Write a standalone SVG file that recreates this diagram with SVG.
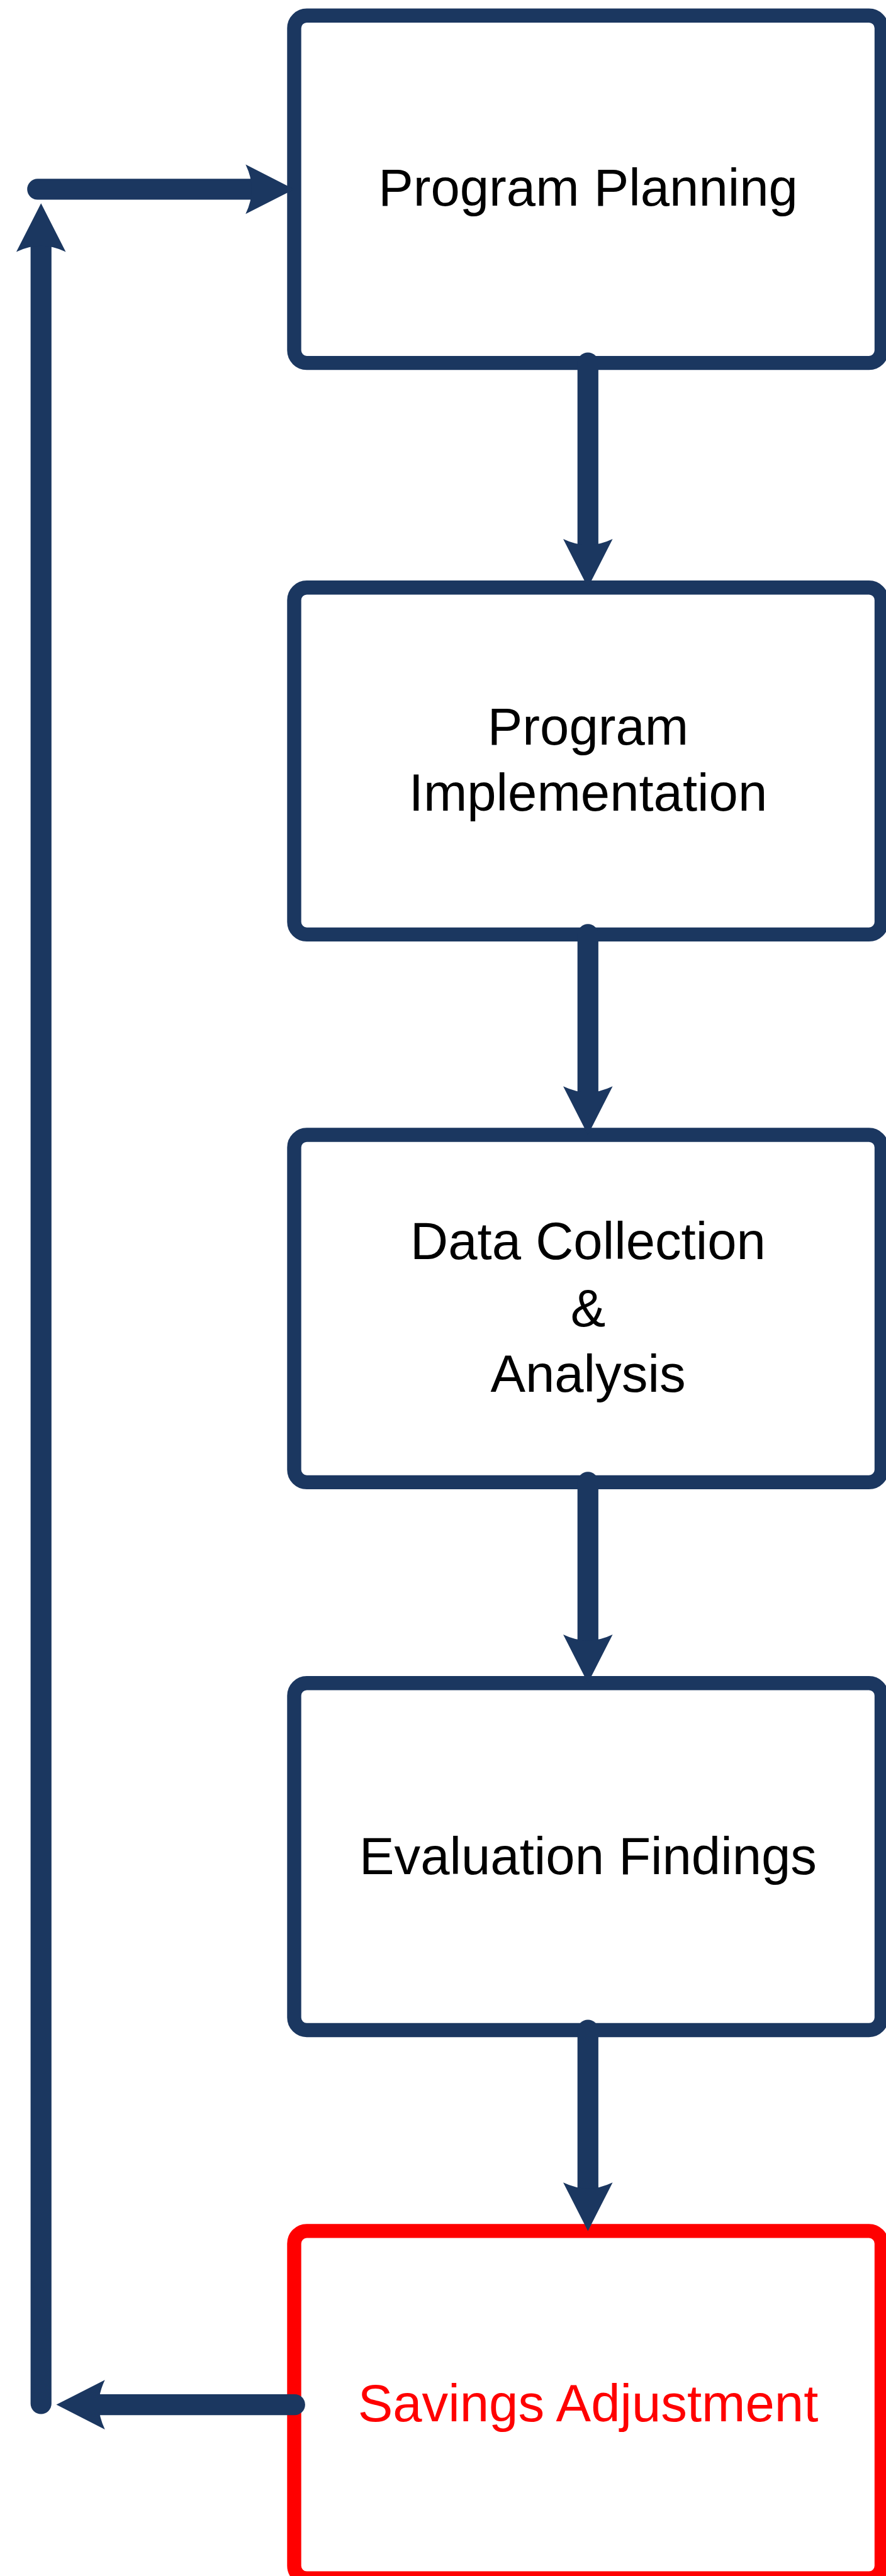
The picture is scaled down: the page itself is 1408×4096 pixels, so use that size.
<svg xmlns="http://www.w3.org/2000/svg" width="1408" height="4096" viewBox="0 0 1408 4096">
  <style>
    .box { fill: #FFFFFF; stroke: #1B3760; stroke-width: 22.4; }
    .box.red { stroke: #FF0000; }
    .lbl { font-family: "Liberation Sans", Arial, sans-serif; font-size: 83.3px; fill: #000000; text-anchor: middle; }
    .lbl.red { fill: #FF0000; }
    .conn { fill: none; stroke: #1B3760; stroke-width: 33.2; stroke-linecap: round; marker-end: url(#ah); }
  </style>
  <defs>
    <marker id="ah" markerUnits="userSpaceOnUse" orient="auto" refX="-60" refY="0" markerWidth="80" markerHeight="80" overflow="visible">
      <path d="M0,0 L-77.2,-39.3 Q-67.5,-19 -67.5,0 Q-67.5,19 -77.2,39.3 Z" fill="#1B3760"/>
    </marker>
  </defs>
  <rect width="1408" height="4096" fill="#FFFFFF"/>

  <g id="node-program-planning">
    <rect class="box" x="467.5" y="24.7" width="933.5" height="552.4" rx="20" ry="20"/>
    <text class="lbl" x="934.5" y="326.7">Program Planning</text>
  </g>
  <g id="node-program-implementation">
    <rect class="box" x="467.5" y="934.3" width="933.5" height="551.6" rx="20" ry="20"/>
    <text class="lbl" x="934.5" y="1183.5">Program</text>
    <text class="lbl" x="934.5" y="1289.2">Implementation</text>
  </g>
  <g id="node-data-collection">
    <rect class="box" x="467.5" y="1804.5" width="933.5" height="552.4" rx="20" ry="20"/>
    <text class="lbl" x="934.5" y="2002.0">Data Collection</text>
    <text class="lbl" x="934.5" y="2108.5">&amp;</text>
    <text class="lbl" x="934.5" y="2212.7">Analysis</text>
  </g>
  <g id="node-evaluation-findings">
    <rect class="box" x="467.5" y="2676.3" width="933.5" height="551.7" rx="20" ry="20"/>
    <text class="lbl" x="934.5" y="2979.5">Evaluation Findings</text>
  </g>
  <g id="node-savings-adjustment">
    <rect class="box red" x="467.5" y="3547.4" width="933.5" height="552.4" rx="20" ry="20"/>
    <text class="lbl red" x="934.5" y="3849.8">Savings Adjustment</text>
  </g>

  <g id="connectors">
    <path class="conn" d="M934.3,577.1 V874.3"/>
    <path class="conn" d="M934.3,1485.9 V1744.5"/>
    <path class="conn" d="M934.3,2356.9 V2616.3"/>
    <path class="conn" d="M934.3,3228.0 V3487.4"/>
    <path class="conn" d="M468.3,3823.6 H149.5"/>
    <path class="conn" d="M65.2,3822 V383.3"/>
    <path class="conn" d="M59.8,300.9 H407.5"/>
  </g>
</svg>
